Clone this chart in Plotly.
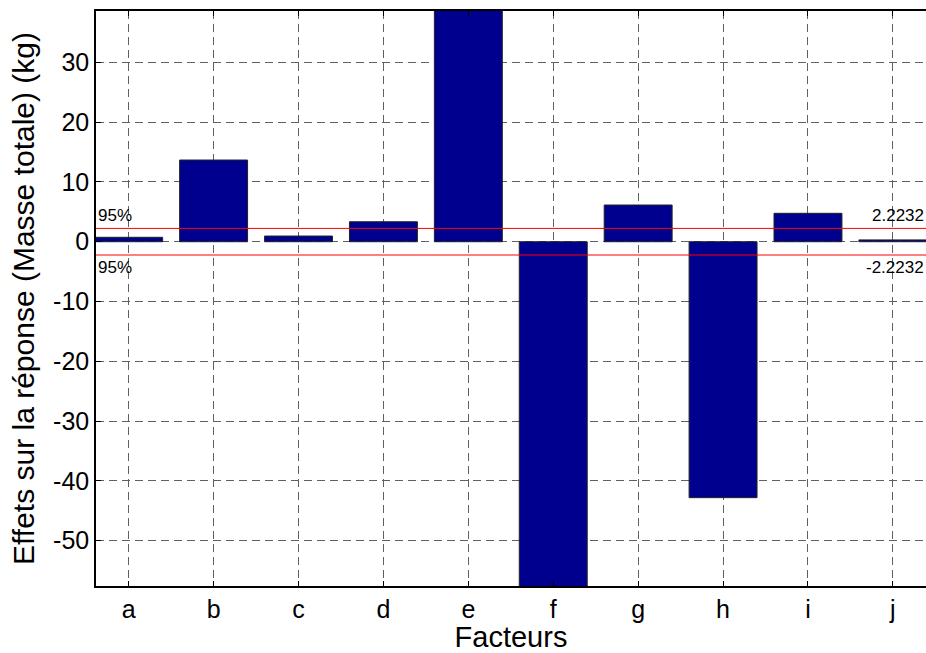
import plotly.graph_objects as go

# Data
categories = ["a", "b", "c", "d", "e", "f", "g", "h", "i", "j"]
effects = [0.74, 13.66, 0.95, 3.34, 47.5, -63.2, 6.14, -42.8, 4.75, 0.3]
threshold = 2.2232
y_ticks = [-50, -40, -30, -20, -10, 0, 10, 20, 30]
y_tick_labels = ["-50", "-40", "-30", "-20", "-10", "0", "10", "20", "30"]

FONT = "Liberation Sans, Arial, sans-serif"

fig = go.Figure()
fig.add_trace(go.Bar(
    x=categories, y=effects, width=0.8,
    marker=dict(color="#00008F", line=dict(color="#222222", width=1)),
    showlegend=False, hoverinfo="skip",
))

# 95% significance lines
for v in (threshold, -threshold):
    fig.add_shape(type="line", xref="paper", x0=0, x1=1, yref="y", y0=v, y1=v,
                  line=dict(color="red", width=1), layer="above")

fig.add_annotation(x=0, xref="paper", y=threshold, yref="y", text="95%",
                   showarrow=False, xanchor="left", yanchor="bottom", yshift=1,
                   font=dict(family=FONT, size=17, color="black"))
fig.add_annotation(x=0, xref="paper", y=-threshold, yref="y", text="95%",
                   showarrow=False, xanchor="left", yanchor="top", yshift=-1,
                   font=dict(family=FONT, size=17, color="black"))
fig.add_annotation(x=1, xref="paper", y=threshold, yref="y", text=f"{threshold:.4f}",
                   showarrow=False, xanchor="right", yanchor="bottom", yshift=1,
                   font=dict(family=FONT, size=17, color="black"))
fig.add_annotation(x=1, xref="paper", y=-threshold, yref="y", text=f"{-threshold:.4f}",
                   showarrow=False, xanchor="right", yanchor="top", yshift=-1,
                   font=dict(family=FONT, size=17, color="black"))

grid = dict(showgrid=True, gridcolor="#606060", griddash="8px,5px", gridwidth=1)

fig.update_xaxes(
    type="category", range=[-0.385, 9.39],
    showline=True, linecolor="black", linewidth=1.5, mirror="ticks",
    ticks="inside", ticklen=5, tickcolor="black",
    tickfont=dict(family=FONT, size=25, color="black"),
    title=dict(text="Facteurs", font=dict(family=FONT, size=29, color="black"), standoff=6),
    zeroline=False, **grid,
)
fig.update_yaxes(
    range=[-57.57, 38.58], tickvals=y_ticks, ticktext=y_tick_labels,
    showline=True, linecolor="black", linewidth=1.5,
    ticks="inside", ticklen=5, tickcolor="black",
    tickfont=dict(family=FONT, size=25, color="black"),
    title=dict(text="Effets sur la réponse (Masse totale) (kg)",
               font=dict(family=FONT, size=30, color="black"), standoff=10),
    zeroline=False, **grid,
)

fig.update_layout(
    width=926, height=653,
    margin=dict(l=96, r=0, t=11, b=67),
    plot_bgcolor="white", paper_bgcolor="white",
    bargap=0.2,
)

fig.write_html("out.html", config={"displayModeBar": False},
               post_script="document.body.style.margin='0';document.body.style.overflow='hidden';")
